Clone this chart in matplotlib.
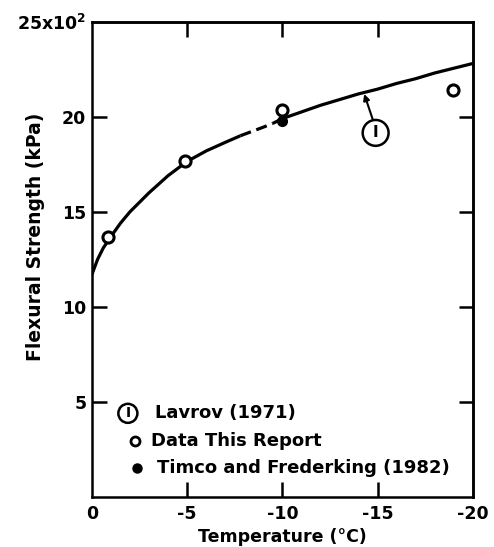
import matplotlib
matplotlib.use('Agg')
from matplotlib import pyplot as plt
from matplotlib.patches import Circle

# %% Data

# Lavrov (1971) curve
curve_T = [0, -0.3, -0.6, -1, -1.5, -2, -3, -4, -5, -6, -7, -7.8,
           -8.2, -8.6, -9.0, -9.5, -10, -11, -12, -13, -14, -15, -16,
           -17, -18, -19, -20]
curve_S = [11.7, 12.5, 13.1, 13.7, 14.4, 15.0, 16.0, 16.9, 17.65, 18.2,
           18.65, 19.0, 19.15, 19.3, 19.45, 19.65, 19.9, 20.25, 20.6,
           20.9, 21.2, 21.45, 21.75, 22.0, 22.3, 22.55, 22.8]

# Data This Report (open)
open_T = [-0.85, -4.9, -10.0, -18.95]
open_S = [13.65, 17.65, 20.35, 21.4]

# Timco and Frederking (1982) (filled)
fill_T = [-10.0]
fill_S = [19.8]

xticks = [0, -5, -10, -15, -20]
xlabels = ['0', '-5', '-10', '-15', '-20']
yticks = [5, 10, 15, 20, 25]
ylabels = ['5', '10', '15', '20', r'25x10$^{\mathbf{2}}$']

# %% Plot

plt.rcParams['font.family'] = 'DejaVu Sans'
plt.rcParams['font.weight'] = 'bold'
plt.rcParams['axes.labelweight'] = 'bold'
plt.rcParams['mathtext.default'] = 'bf'

fig = plt.figure(figsize=(4.94, 5.47), dpi=100)
ax = fig.add_axes([0.186, 0.0914, 0.771, 0.869])

lw = 2.3
# solid - dashed - solid pieces of the curve
ax.plot(curve_T[:12], curve_S[:12], 'k-', lw=lw, solid_capstyle='butt')
ax.plot(curve_T[11:16], curve_S[11:16], 'k-', lw=lw, dashes=(3.5, 1.8))
ax.plot(curve_T[15:], curve_S[15:], 'k-', lw=lw, solid_capstyle='butt')

ax.plot(fill_T, fill_S, 'o', color='k', ms=7, zorder=4)
ax.plot(open_T, open_S, 'o', mfc='white', mec='k', mew=2.2, ms=8, zorder=5)

ax.set_xlim(0, -20)
ax.set_ylim(0, 25)
ax.set_xticks(xticks)
ax.set_xticklabels(xlabels, fontsize=12.5)
ax.set_yticks(yticks)
ax.set_yticklabels(ylabels, fontsize=12.5)
ax.tick_params(direction='in', length=11, width=1.8, pad=6)
ax.tick_params(axis='y', pad=4)
ax.yaxis.get_major_ticks()[-1].tick1line.set_visible(False)
ax.xaxis.get_major_ticks()[0].tick1line.set_visible(False)
ax.xaxis.get_major_ticks()[-1].tick1line.set_visible(False)

# inward ticks on top and right
top = ax.secondary_xaxis('top')
top.set_xticks([-5, -10, -15])
top.set_xticklabels([])
top.tick_params(direction='in', length=11, width=1.8)
right = ax.secondary_yaxis('right')
right.set_yticks([5, 10, 15, 20])
right.set_yticklabels([])
right.tick_params(direction='in', length=10, width=1.8)

for s in list(ax.spines.values()) + [top.spines['top'], right.spines['right']]:
    s.set_linewidth(1.8)

ax.set_xlabel('Temperature (°C)', fontsize=12.5, labelpad=3)
ax.set_ylabel('Flexural Strength (kPa)', fontsize=13.5)
ax.yaxis.set_label_coords(-0.123, 0.547)

# curve callout
ax.add_patch(Circle((-14.9, 19.15), 0.68, fill=False, lw=1.8, ec='k'))
ax.text(-14.9, 19.15, 'I', ha='center', va='center', fontsize=11)
ax.annotate('', xy=(-14.3, 21.2), xytext=(-14.75, 19.85),
            arrowprops=dict(arrowstyle='-|>', color='k', lw=1.5,
                            mutation_scale=9, shrinkA=0, shrinkB=0))

# key
ax.add_patch(Circle((-1.89, 4.4), 0.5, fill=False, lw=1.8, ec='k'))
ax.text(-1.89, 4.4, 'I', ha='center', va='center', fontsize=10)
ax.text(-3.3, 4.4, 'Lavrov (1971)', ha='left', va='center', fontsize=13)
ax.plot([-2.26], [2.95], 'o', mfc='white', mec='k', mew=2, ms=6.5)
ax.text(-3.1, 2.95, 'Data This Report', ha='left', va='center', fontsize=13)
ax.plot([-2.36], [1.5], 'o', color='k', ms=6.5)
ax.text(-3.4, 1.55, 'Timco and Frederking (1982)', ha='left', va='center',
        fontsize=13)

fig.savefig('out.png', dpi=100)
